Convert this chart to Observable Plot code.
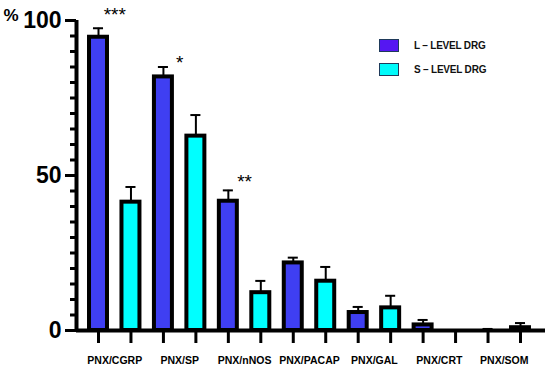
<!DOCTYPE html>
<html>
<head>
<meta charset="utf-8">
<script src="https://cdn.jsdelivr.net/npm/d3@7"></script>
<script src="https://cdn.jsdelivr.net/npm/@observablehq/plot@0.6"></script>
<style>
  body { margin: 0; background: #fff; }
  #wrap { position: relative; width: 550px; height: 366px; font-family: "Liberation Sans", Arial, sans-serif; }
  .legend { position: absolute; left: 379px; top: 38px; }
  .item { display: flex; align-items: center; height: 14px; margin-bottom: 10px; }
  .sw { width: 18px; height: 11px; border: 1.5px solid #1f3a5a; margin-right: 15px; }
  .lab { font-weight: bold; font-size: 10px; letter-spacing: -0.2px; color: #111; }
</style>
</head>
<body>
<div id="wrap"></div>
<script>
// ---- data ----
const categories = ["PNX/CGRP", "PNX/SP", "PNX/nNOS", "PNX/PACAP", "PNX/GAL", "PNX/CRT", "PNX/SOM"];
const seriesNames = ["L – LEVEL DRG", "S – LEVEL DRG"];
const lLevel    = [94.6, 81.8, 41.7, 21.8, 5.8, 1.8, 0];
const lLevelTop = [97.5, 85.0, 45.2, 23.5, 7.6, 3.4, 0.5];
const sLevel    = [41.4, 62.7, 12.2, 15.9, 7.3, 0, 0.9];
const sLevelTop = [46.3, 69.5, 16.0, 20.5, 11.2, null, 2.4];
const sigLabels = ["***", "*", "**"];
const sigY      = [103.5, 88, 49.5];
const yTicks = [0, 50, 100];

// ---- styles ----
const colors = ["#3f3ff2", "#00ffff"];
const legendColors = ["#5517f2", "#00fafa"];
const barHalf = 0.277, capHalf = 0.155;
const firstPx = 98, lastPx = 520, mL = 76, mR = 5, W = 550;
const stepPx = (lastPx - firstPx) / 13;
const xLeft = (mL - firstPx) / stepPx;
const noLabel = () => "";

const bars = [];
categories.forEach((c, i) => {
  bars.push({cat: c, s: 0, i: i * 2, v: lLevel[i], top: lLevelTop[i]});
  bars.push({cat: c, s: 1, i: i * 2 + 1, v: sLevel[i], top: sLevelTop[i]});
});
const errs = bars.filter(d => d.top != null);
const labels = categories.map((c, i) => ({cat: c, x: i * 2 + 0.5}));
const sig = sigLabels.map((s, k) => ({s, x: k * 2 + 0.5, y: sigY[k]}));

const chart = Plot.plot({
  width: W, height: 366,
  marginLeft: mL, marginRight: mR, marginTop: 20, marginBottom: 36,
  style: {fontFamily: "Liberation Sans, Arial, sans-serif", color: "#000", background: "#fff"},
  x: {domain: [0, 13], range: [firstPx, lastPx], axis: null},
  y: {domain: [0, 100], axis: null},
  marks: [
    Plot.axisY({ticks: d3.range(0, 101, 5), tickSize: 6, tickFormat: noLabel, strokeWidth: 3}),
    Plot.axisY({ticks: yTicks, tickSize: 11, tickPadding: 4, strokeWidth: 3, fontSize: 23, fontWeight: "bold"}),
    Plot.axisX({ticks: d3.range(14), tickSize: 13, tickFormat: noLabel, strokeWidth: 3}),
    Plot.ruleX(errs, {x: "i", y1: "v", y2: "top", stroke: "black", strokeWidth: 2}),
    Plot.ruleY(errs, {x1: d => d.i - capHalf, x2: d => d.i + capHalf, y: "top", stroke: "black", strokeWidth: 2}),
    Plot.rect(bars, {x1: d => d.i - barHalf, x2: d => d.i + barHalf, y1: 0, y2: "v",
      fill: d => colors[d.s], stroke: "black", strokeWidth: 4}),
    Plot.ruleY([0], {stroke: "black", strokeWidth: 4}),
    Plot.ruleX([xLeft], {stroke: "black", strokeWidth: 4}),
    Plot.text(labels, {x: "x", y: 0, text: "cat", dy: 30, fontSize: 10.5, fontWeight: "bold"}),
    Plot.text(sig, {x: "x", y: "y", text: "s", dy: 5, fontSize: 19}),
    Plot.text(["%"], {frameAnchor: "top-left", text: d => d, dx: -73, dy: -12, textAnchor: "start", fontSize: 17, fontWeight: "bold"})
  ]
});
const wrap = document.getElementById("wrap");
wrap.appendChild(chart);
const leg = document.createElement("div");
leg.className = "legend";
seriesNames.forEach((n, k) => {
  const it = document.createElement("div");
  it.className = "item";
  it.innerHTML = `<div class="sw" style="background:${legendColors[k]}"></div><div class="lab">${n}</div>`;
  leg.appendChild(it);
});
wrap.appendChild(leg);
</script>
</body>
</html>
